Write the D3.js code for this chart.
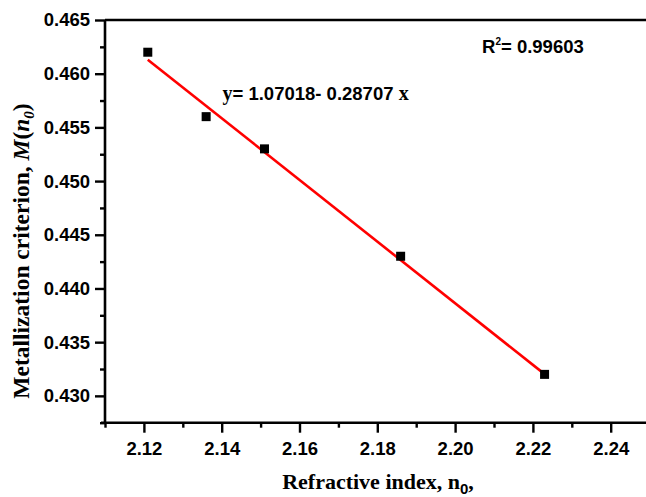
<!DOCTYPE html>
<html>
<head>
<meta charset="utf-8">
<script src="https://cdn.jsdelivr.net/npm/d3@7/dist/d3.min.js"></script>
<style>
  html, body { margin: 0; padding: 0; background: #fff; overflow: hidden; }
  svg { display: block; }
</style>
</head>
<body>
<div id="container"></div>
<script>
// measured values
const refIndex = [2.121, 2.136, 2.151, 2.186, 2.223];
const metalCrit = [0.462, 0.456, 0.453, 0.443, 0.432];
const fitIntercept = 1.07018;
const fitSlope = -0.28707;
const xTicks = [2.12, 2.14, 2.16, 2.18, 2.20, 2.22, 2.24];
const yTicks = [0.430, 0.435, 0.440, 0.445, 0.450, 0.455, 0.460, 0.465];

const width = 646, height = 497;
const sans = '"Liberation Sans", Arial, sans-serif';
const serif = '"Liberation Serif", "Times New Roman", serif';

const svg = d3.select('#container').append('svg')
    .attr('width', width)
    .attr('height', height);

const x = d3.scaleLinear().domain([2.11, 2.25]).range([105, 649.6]);
const y = d3.scaleLinear().domain([0.4275, 0.465]).range([422.7, 20]);

// minor ticks halfway between majors
const xMinor = d3.range(2.11, 2.2501, 0.02);
const yMinor = d3.range(0.4275, 0.465, 0.005);

// frame (top + right)
svg.append('path')
    .attr('d', `M${x(2.11)},${y(0.465)}H${x(2.25)}V${y(0.4275)}`)
    .attr('fill', 'none')
    .attr('stroke', '#000')
    .attr('stroke-width', 2.6);

// x axis
const gx = svg.append('g').attr('transform', `translate(0,${y(0.4275)})`);
gx.call(d3.axisBottom(x).tickValues(xMinor).tickSize(5).tickFormat(''));
gx.select('.domain').remove();
const gxMajor = svg.append('g').attr('transform', `translate(0,${y(0.4275)})`)
    .call(d3.axisBottom(x).tickValues(xTicks).tickSize(10).tickPadding(9).tickFormat(d3.format('.2f')));
gxMajor.select('.domain').remove();
svg.append('line')
    .attr('x1', x(2.11) - 4).attr('x2', width + 5)
    .attr('y1', y(0.4275)).attr('y2', y(0.4275))
    .attr('stroke', '#000').attr('stroke-width', 2.6);

// y axis
const gy = svg.append('g').attr('transform', `translate(${x(2.11)},0)`);
gy.call(d3.axisLeft(y).tickValues(yMinor).tickSize(5).tickFormat(''));
gy.select('.domain').remove();
const gyMajor = svg.append('g').attr('transform', `translate(${x(2.11)},0)`)
    .call(d3.axisLeft(y).tickValues(yTicks).tickSize(10).tickPadding(5).tickFormat(d3.format('.3f')));
gyMajor.select('.domain').remove();
svg.append('line')
    .attr('x1', x(2.11)).attr('x2', x(2.11))
    .attr('y1', y(0.465)).attr('y2', y(0.4275) + 1.3)
    .attr('stroke', '#000').attr('stroke-width', 2.6);

svg.selectAll('.tick line').attr('stroke', '#000').attr('stroke-width', 2.4);
svg.selectAll('.tick text')
    .attr('fill', '#000')
    .style('font-family', sans)
    .style('font-weight', 'bold')
    .style('font-size', '18.5px');

// fit line
const xFirst = d3.min(refIndex), xLast = d3.max(refIndex);
svg.append('line')
    .attr('x1', x(xFirst)).attr('y1', y(fitIntercept + fitSlope * xFirst))
    .attr('x2', x(xLast)).attr('y2', y(fitIntercept + fitSlope * xLast))
    .attr('stroke', '#ff0000')
    .attr('stroke-width', 2.6);

// points
const pts = refIndex.map((d, i) => ({ n: d, m: metalCrit[i] }));
const sq = 9;
svg.append('g').selectAll('rect')
    .data(pts)
    .join('rect')
    .attr('x', d => x(d.n) - sq / 2)
    .attr('y', d => y(d.m) - sq / 2)
    .attr('width', sq)
    .attr('height', sq)
    .attr('fill', '#000');

// equation
const eq = svg.append('text')
    .attr('x', 222.5).attr('y', 100)
    .style('font-size', '18.5px').style('font-weight', 'bold');
eq.append('tspan').style('font-family', serif).style('font-size', '20px').text('y');
eq.append('tspan').style('font-family', sans).text('= 1.07018- 0.28707 ');
eq.append('tspan').style('font-family', serif).style('font-size', '20px').text('x');

// R^2
const r2 = svg.append('text')
    .attr('x', 482).attr('y', 53)
    .style('font-family', sans)
    .style('font-size', '18.5px').style('font-weight', 'bold');
r2.append('tspan').text('R');
r2.append('tspan').attr('dy', -8).style('font-size', '10px').text('2');
r2.append('tspan').attr('dy', 8).text('= 0.99603');

// x title
const xt = svg.append('text')
    .attr('x', 378).attr('y', 489)
    .attr('text-anchor', 'middle')
    .style('font-family', serif)
    .style('font-size', '22px').style('font-weight', 'bold');
xt.append('tspan').text('Refractive index, n');
xt.append('tspan').attr('dy', 5).style('font-family', sans).style('font-size', '15px').text('0');
xt.append('tspan').attr('dy', -5).text(',');

// y title
const yt = svg.append('text')
    .attr('transform', 'translate(29,251) rotate(-90)')
    .attr('text-anchor', 'middle')
    .style('font-family', serif)
    .style('font-size', '23.5px').style('font-weight', 'bold');
yt.append('tspan').text('Metallization criterion, ');
yt.append('tspan').style('font-style', 'italic').text('M');
yt.append('tspan').text('(');
yt.append('tspan').style('font-style', 'italic').text('n');
yt.append('tspan').attr('dy', 5).style('font-style', 'italic').style('font-size', '15px').text('0');
yt.append('tspan').attr('dy', -5).text(')');
</script>
</body>
</html>
